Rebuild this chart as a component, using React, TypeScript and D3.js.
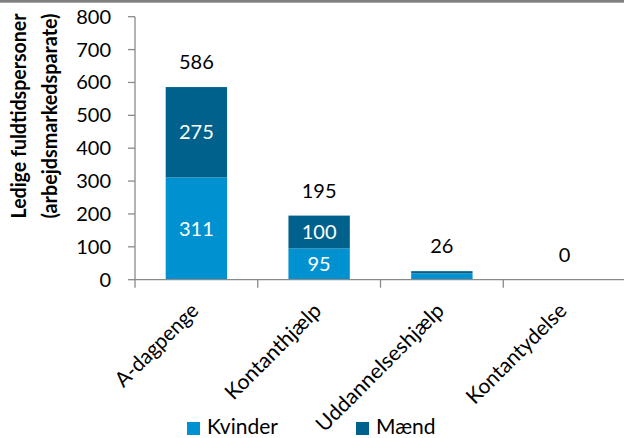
import React from "react";
import * as d3 from "d3";

const categories = ["A-dagpenge", "Kontanthjælp", "Uddannelseshjælp", "Kontantydelse"];
const kvinder = [311, 95, 19, 0];
const maend = [275, 100, 7, 0];
const totals = [586, 195, 26, 0];
const yTicks = [0, 100, 200, 300, 400, 500, 600, 700, 800];
const showSegLabels = [true, true, false, false];
const seriesNames = ["Kvinder", "Mænd"];
const colors = ["#0091D0", "#00628C"];
const labelLengths = [108, 126, 171, 132];

const FONT = "Lato, 'Open Sans', sans-serif";

export default function App() {
  const W = 624, H = 438;
  const x = d3.scaleBand<string>().domain(categories).range([135, 626]).padding(0);
  const y = d3.scaleLinear().domain([0, 800]).range([279.7, 16.7]);
  const bw = x.bandwidth() / 2;
  const axisColor = "#8a8a8a";

  const stacked = d3.stack<any>().keys(["k", "m"])(
    categories.map((c, i) => ({ cat: c, k: kvinder[i], m: maend[i] }))
  );

  return (
    <svg width={W} height={H} style={{ position: "absolute", left: 0, top: 0, display: "block", background: "#fff" }}
      fontFamily={FONT}>
      <rect x={0} y={0} width={W} height={2.7} fill="#808080" />
      {stacked.map((s, si) =>
        s.map((d, i) => {
          const cx = (x(categories[i]) as number) + x.bandwidth() / 2;
          const h = y(d[0]) - y(d[1]);
          if (h <= 0) return null;
          return (
            <rect key={`${si}-${i}`} x={cx - bw / 2} y={y(d[1])} width={bw} height={h} fill={colors[si]} />
          );
        })
      )}
      {stacked.map((s, si) =>
        s.map((d, i) => {
          if (!showSegLabels[i]) return null;
          const cx = (x(categories[i]) as number) + x.bandwidth() / 2;
          const cy = (y(d[0]) + y(d[1])) / 2;
          return (
            <text key={`l${si}-${i}`} x={cx} y={cy} dy="0.35em" textAnchor="middle" fill="#fff" fontSize={20}>
              {si === 0 ? kvinder[i] : maend[i]}
            </text>
          );
        })
      )}
      {totals.map((t, i) => {
        const cx = (x(categories[i]) as number) + x.bandwidth() / 2;
        return (
          <text key={`t${i}`} x={cx} y={y(t) - 25} dy="0.35em" textAnchor="middle" fill="#000" fontSize={20}>
            {t}
          </text>
        );
      })}
      <line x1={135} x2={135} y1={y(800)} y2={y(0) + 8} stroke={axisColor} strokeWidth={1.3} />
      {yTicks.map((t) => (
        <g key={`y${t}`}>
          <line x1={128} x2={135} y1={y(t)} y2={y(t)} stroke={axisColor} strokeWidth={1.3} />
          <text x={111} y={y(t)} dy="0.35em" textAnchor="end" fill="#000" fontSize={20}>
            {t}
          </text>
        </g>
      ))}
      <line x1={135} x2={W} y1={y(0)} y2={y(0)} stroke={axisColor} strokeWidth={1.3} />
      {categories.map((c, i) => {
        const bx = (x(c) as number) + x.bandwidth();
        return <line key={`xt${i}`} x1={bx} x2={bx} y1={y(0)} y2={y(0) + 8} stroke={axisColor} strokeWidth={1.3} />;
      })}
      {categories.map((c, i) => {
        const cx = (x(c) as number) + x.bandwidth() / 2;
        return (
          <text key={`xl${c}`} transform={`translate(${cx + 3.5},${312}) rotate(-45)`} textAnchor="end" fill="#000" fontSize={21}
            textLength={labelLengths[i]} lengthAdjust="spacingAndGlyphs">
            {c}
          </text>
        );
      })}
      <text transform="translate(26,116) rotate(-90)" textAnchor="middle" fontWeight="bold" fontSize={20} fill="#000"
        textLength={205} lengthAdjust="spacingAndGlyphs">
        Ledige fuldtidspersoner
      </text>
      <text transform="translate(57,116) rotate(-90)" textAnchor="middle" fontWeight="bold" fontSize={20} fill="#000"
        textLength={205} lengthAdjust="spacingAndGlyphs">
        (arbejdsmarkedsparate)
      </text>
      {seriesNames.map((n, i) => {
        const lx = [187, 356][i];
        return (
          <g key={n}>
            <rect x={lx} y={422} width={13} height={13} fill={colors[i]} />
            <text x={lx + 20} y={434} fontSize={21} fill="#000">{n}</text>
          </g>
        );
      })}
    </svg>
  );
}
